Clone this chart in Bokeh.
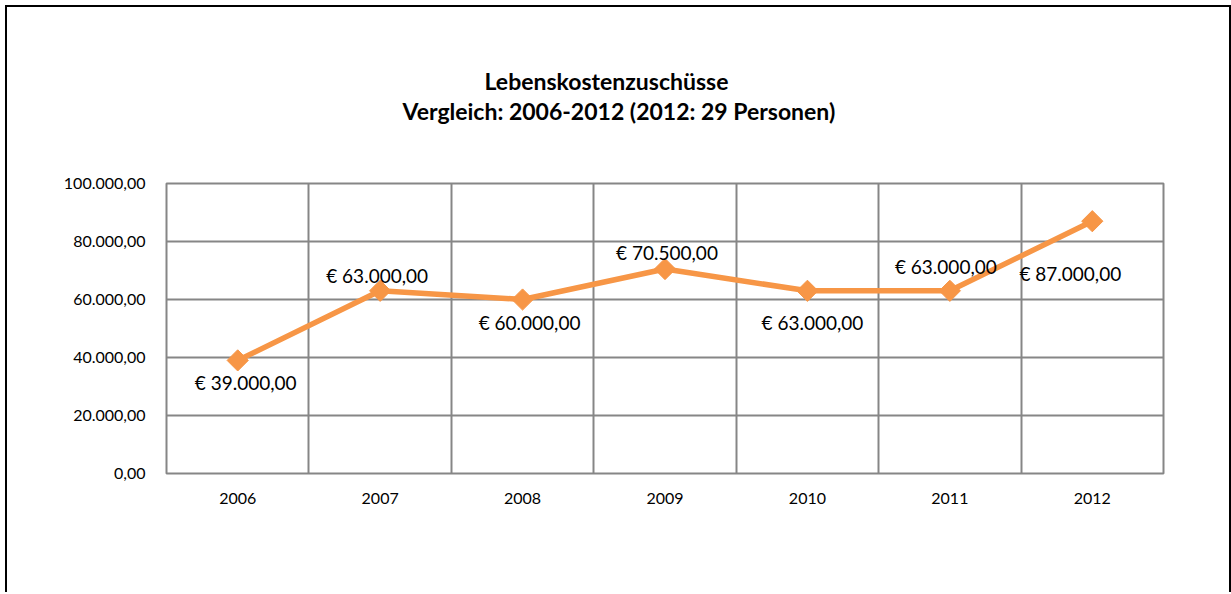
import math
from bokeh.plotting import figure
from bokeh.models import ColumnDataSource, FixedTicker, LabelSet, Title
from bokeh.core.properties import value
from bokeh.embed import file_html
from bokeh.resources import INLINE

years = ["2006", "2007", "2008", "2009", "2010", "2011", "2012"]
values = [39000, 63000, 60000, 70500, 63000, 63000, 87000]
y_ticks = [0, 20000, 40000, 60000, 80000, 100000]
title_lines = ["Lebenskostenzuschüsse", "Vergleich: 2006-2012 (2012: 29 Personen)"]

def de_fmt(v):
    s = f"{v:,.2f}"
    return s.replace(",", "X").replace(".", ",").replace("X", ".")

labels = ["€ " + de_fmt(v) for v in values]
xs = list(range(1, len(years) + 1))
# label offsets in screen px (dx right, dy up)
lab_dx = [8, -3, 7, 2, 5, -4, -22]
lab_dy = [-22, 15, -23, 17, -32, 24, -52]
title_offsets = [318, 236]

src = ColumnDataSource(dict(x=xs, y=values, lab=labels, dx=lab_dx, dy=lab_dy))

FONT = "Lato"
p = figure(width=1226, height=587, output_backend="svg", toolbar_location=None,
           x_range=(0.5, len(years) + 0.5), y_range=(0, 100000),
           min_border_left=159, min_border_right=70, min_border_top=176, min_border_bottom=121)
p.title = None
p.styles = {"border-left": "2px solid black", "border-top": "2px solid black",
            "border-right": "2px solid black", "margin-left": "5px", "margin-top": "5px"}
p.outline_line_color = "#868686"
p.outline_line_width = 2

p.xgrid.ticker = FixedTicker(ticks=[i + 0.5 for i in xs[:-1]])
p.ygrid.ticker = FixedTicker(ticks=y_ticks)
for g in (p.xgrid, p.ygrid):
    g.grid_line_color = "#868686"
    g.grid_line_width = 2
    g.grid_line_alpha = 1.0

p.xaxis.ticker = FixedTicker(ticks=xs)
p.xaxis.major_label_overrides = {x: y for x, y in zip(xs, years)}
p.yaxis.ticker = FixedTicker(ticks=y_ticks)
p.yaxis.major_label_overrides = {t: de_fmt(t) for t in y_ticks}
for ax in (p.xaxis, p.yaxis):
    ax.axis_line_color = None
    ax.major_tick_line_color = None
    ax.minor_tick_line_color = None
    ax.major_label_text_font = FONT
    ax.major_label_text_font_size = "16px"
    ax.major_label_text_color = "#000000"
p.xaxis.major_label_standoff = 13
p.yaxis.major_label_standoff = 15

p.line("x", "y", source=src, line_color="#F79646", line_width=5.5)
p.scatter("x", "y", source=src, marker="square", angle=math.pi / 4, size=15,
          fill_color="#F79646", line_color="#F79646")

p.add_layout(LabelSet(x="x", y="y", text="lab", source=src, x_offset="dx", y_offset="dy",
                      text_align="center", text_baseline="middle", text_font=value(FONT),
                      text_font_size="19px", text_color="#000000"))

# spacer then titles (added innermost first)
p.add_layout(Title(text=" ", text_font_size="42px"), "above")
for t, off in reversed(list(zip(title_lines, title_offsets))):
    p.add_layout(Title(text=t, align="left", offset=off, text_font=FONT,
                       text_font_size="23px", text_font_style="bold",
                       text_color="#000000", standoff=0), "above")

open("out.html", "w").write(file_html(p, INLINE))
